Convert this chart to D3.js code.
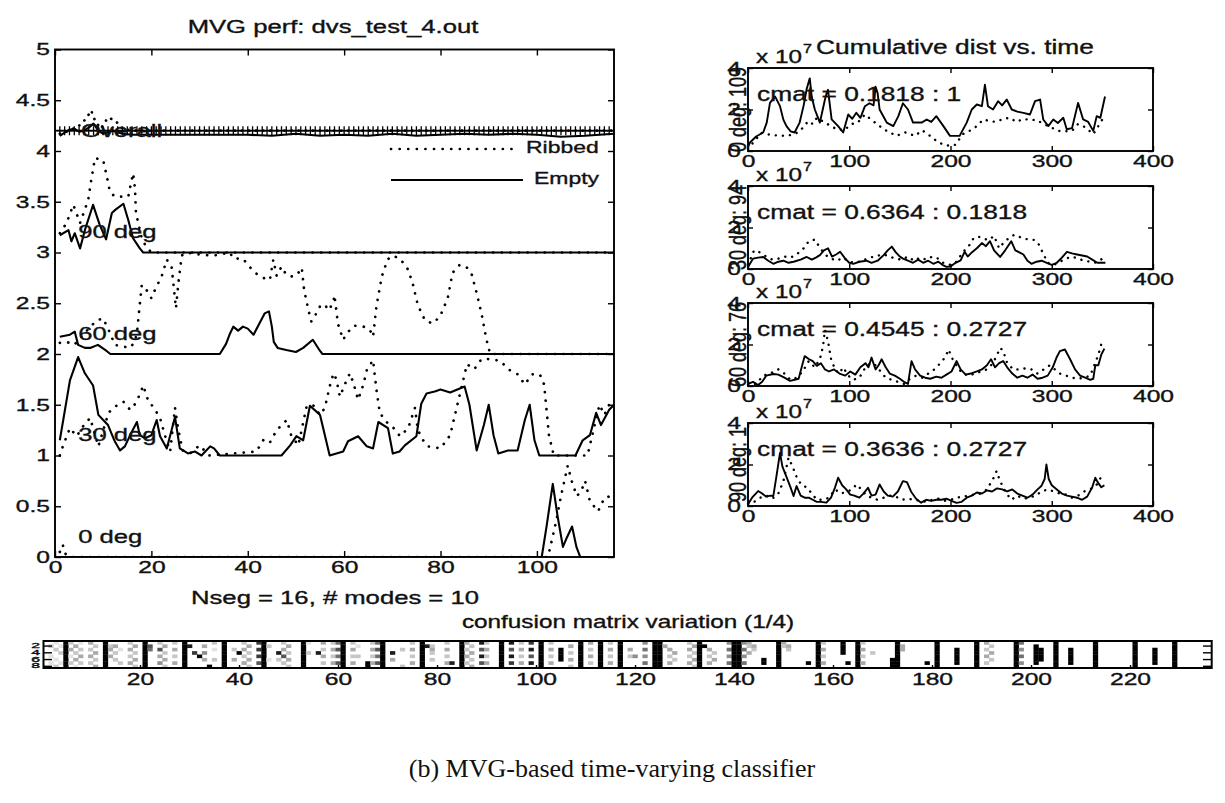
<!DOCTYPE html>
<html><head><meta charset="utf-8">
<script src="https://cdn.jsdelivr.net/npm/d3@7"></script>
<style>
body{margin:0;background:#fff;}
svg text{font-family:"Liberation Sans",Arial,Helvetica,sans-serif;fill:#111;stroke:#111;stroke-width:0.35px;}
</style></head><body>
<script>
// ---------- data ----------
// main panel: per-orientation performance (0..1), drawn with an offset per orientation
const orientations = ["0 deg", "30 deg", "60 deg", "90 deg"];
const offsets = [0, 1, 2, 3];
const empty0  = [[1,0],[101,0],[102,.3],[103.3,.72],[104.3,.4],[105.4,.1],[106.3,.2],[107.3,.3],[108.2,.1],[109,0],[116,0]];
const ribbed0 = [[1,.05],[1.6,.12],[2.2,.03],[3,0],[102.3,0],[104,.35],[105,.6],[106.4,.9],[107.2,.75],[108.3,.6],[109.2,.65],[110,.75],[111,.55],[112.7,.45],[113.7,.55],[114.7,.6],[116,.55]];
const empty30 = [[1,.15],[3.1,.74],[4.8,.97],[6.2,.81],[7.9,.69],[9,.4],[10,.35],[11,.3],[12.4,.14],[13.5,.05],[14.5,.09],[15.9,.23],[17,.33],[17.6,.2],[18.7,.17],[20,.2],[21.1,.35],[21.8,.19],[23.2,.07],[24.9,.38],[25.9,.07],[27.6,.02],[29,.04],[30.4,0],[32.2,.09],[33,.07],[34.2,0],[47,0],[48.8,.1],[50.1,.19],[51.5,.15],[52.9,.49],[55,.4],[57,0],[59.8,.04],[60.8,.14],[62.9,.19],[64.7,.09],[66,.07],[67.1,.33],[69.1,.27],[70.1,.02],[71.5,.04],[72.6,.1],[75,.19],[76,.51],[77.1,.61],[78.8,.63],[80,.65],[82,.62],[84,.66],[85,.68],[86,.5],[87.5,.05],[89,.3],[90,.5],[91,.2],[92,.02],[94,.05],[96,.05],[97.5,.35],[98.5,.5],[99.5,.15],[100.5,0],[108,0],[109.5,.15],[111,.2],[112.3,.42],[113.3,.3],[115,.45],[116,.5]];
const ribbed30 = [[1,0],[1.7,.1],[3.1,.27],[4.5,.19],[6,.3],[7.3,.37],[9,.09],[11.1,.42],[12.4,.48],[14.2,.53],[15.6,.45],[16.5,.5],[17.6,.6],[18.3,.69],[19.4,.53],[20.4,.48],[21.8,.37],[22.8,.2],[23.9,.04],[24.9,.47],[25.6,.25],[26.5,.05],[28,.02],[30,.1],[31,.05],[32,0],[41.8,.04],[43.2,.15],[44.5,.12],[46,.25],[48.1,.35],[49,.2],[50.5,.1],[52.2,.48],[53.5,.5],[55,.4],[56,.47],[57,.68],[57.8,.81],[58.4,.75],[59.1,.58],[60.5,.74],[61.2,.81],[62,.7],[62.9,.55],[64,.7],[64.7,.84],[66,.94],[66.7,.65],[67.4,.42],[68.8,.33],[70.1,.28],[71.6,.19],[73.3,.27],[74.7,.47],[75.3,.25],[76.4,.15],[77.4,.09],[80,.07],[82,.2],[84,.6],[85.5,.9],[87,.85],[88.5,.95],[90.5,.95],[92.5,.93],[94,.85],[96,.8],[97.5,.7],[99,.8],[100.6,.8],[101.5,.7],[102.5,.2],[103.5,0],[110.5,0],[112,.3],[113,.5],[114,.4],[115,.5],[116,.45]];
const empty60 = [[1,.17],[3.1,.19],[4.1,.22],[4.8,.09],[6.2,.06],[7.3,.06],[8.9,.09],[10.7,.03],[11.5,0],[34.2,0],[35.5,.1],[36.3,.2],[37,.27],[38,.23],[39,.27],[40,.25],[41.2,.19],[43.5,.4],[44.4,.42],[45,.27],[45.4,.12],[46.2,.06],[48,.04],[50,.02],[51.5,.06],[53.5,.14],[55,.03],[55.5,0],[116,0]];
const ribbed60 = [[1,.11],[2.4,.12],[4,.09],[6,.2],[8.6,.33],[10,.35],[11.5,.2],[12.4,.09],[15.6,.06],[16.5,.12],[17,.2],[17.4,.4],[18,.68],[19,.63],[20,.55],[21,.66],[22.1,.76],[23.2,.93],[24.2,.86],[24.6,.68],[25.1,.45],[25.6,.7],[26.3,.97],[27.3,1],[30,.98],[33,.97],[36.3,1],[37,.94],[39,.94],[40,.88],[41.5,.8],[43.2,.75],[44.6,.73],[45.3,.93],[46,.77],[47,.86],[48,.78],[49.5,.76],[50.5,.8],[51.2,.85],[51.7,.63],[52.6,.43],[53.2,.32],[54,.38],[55,.47],[56,.49],[56.7,.43],[57.7,.5],[58,.58],[58.7,.3],[59.8,.14],[60.5,.2],[62,.28],[64,.27],[65.3,.24],[66,.17],[66.7,.47],[67.8,.76],[69,.93],[70,.97],[71.6,.94],[73.3,.83],[74.3,.68],[75.3,.48],[76.8,.33],[78.4,.3],[79.9,.37],[81.5,.55],[82.5,.8],[84,.88],[85.5,.85],[86.5,.78],[87.5,.6],[88.5,.4],[89.5,.15],[90.3,0],[116,0]];
const empty90 = [[1,.17],[2.8,.22],[3.4,.11],[4.1,.19],[5.2,.04],[6.2,.22],[7.9,.47],[9.3,.27],[10.6,.13],[11.8,.39],[12.5,.42],[14.2,.48],[15.2,.32],[16.2,.14],[17.6,.04],[18.3,0],[116,0]];
const ribbed90 = [[1,.19],[2.4,.29],[3.8,.47],[5.2,.29],[6.9,.52],[7.3,.65],[8.3,.93],[10,.91],[10.7,.76],[11.4,.6],[12.4,.55],[15.2,.55],[16.2,.78],[16.6,.63],[16.8,.39],[18,.14],[19.1,.04],[20.1,0],[116,0]];
// overall row (offset 4)
const overallLevel = 4.2;
const overallCount = 116;
const overallEmpty  = [[1,.15],[2,.18],[3,.21],[4,.22],[5,.19],[6,.2],[7,.23],[8,.27],[9,.2],[10,.17],[12,.2],[14,.17],[16,.16],[30,.16],[40,.16],[45,.15],[50,.17],[55,.15],[60,.16],[65,.15],[70,.17],[75,.15],[80,.16],[85,.17],[90,.16],[95,.17],[100,.16],[105,.14],[110,.15],[116,.17]];
const overallRibbed = [[1,.17],[3,.2],[5,.25],[6.5,.32],[7.5,.4],[8.3,.3],[9.5,.22],[11,.33],[12.5,.3],[14,.22],[16,.2],[116,.2]];

// right panels: cumulative distance (x 10^7) vs time
const panelLabels = ["0 deg: 109", "30 deg: 94", "60 deg: 76", "90 deg: 1"];
const cmatLabels = ["cmat = 0.1818 : 1", "cmat = 0.6364 : 0.1818", "cmat = 0.4545 : 0.2727", "cmat = 0.3636 : 0.2727"];
const dist0Solid = [[0,.2],[2,.41],[8,.7],[15,.89],[18.5,1.37],[21.7,2.32],[26.7,2.63],[31.6,2.16],[35,1.5],[38,1.2],[42,.95],[46,.89],[51,1.37],[55,2.2],[58,3],[61,3.5],[63,2.6],[66,2],[71,1.37],[76,2.48],[77.7,2.8],[79,2.95],[82.6,1.52],[89,1.2],[94,.89],[99,1.76],[103,1.55],[107,1.84],[111,1.6],[115.5,2.16],[120,2.3],[124,2.2],[126,3.1],[128,2.79],[130,2],[137,1.37],[143.5,1.2],[148.5,1.68],[153,2.3],[158,2],[163,1.37],[171.5,1.37],[176.5,1.52],[181,1.4],[186,1.68],[193,1.2],[199.5,.73],[209,.73],[216,1.37],[221,2],[226,2.24],[231,2.16],[234,3.19],[237,2.16],[242,2],[247,2.4],[251,2.2],[255.5,2.48],[260.5,2],[266,1.9],[272,1.84],[278.5,1.76],[283.5,2.4],[288.5,2.48],[291.6,1.52],[296.6,1.2],[301.5,1.52],[306,1.35],[311.4,1.6],[314.8,1.05],[320,1.1],[326,2.32],[331,1.52],[336,1.4],[341,.97],[344.4,1.68],[348,1.6],[352.6,2.63]];
const dist0Dotted = [[0,.1],[5,.4],[13,.87],[20,.8],[28,.75],[38,.73],[46,.81],[52,1],[59.5,1.44],[64,1.3],[68,1.6],[75,1.4],[82,1.2],[87.6,1.05],[95,1],[102,1.3],[108,1.35],[115.5,1.76],[122,1.5],[130,1.2],[137,.97],[146.8,.73],[155,.9],[165,.73],[172,1],[178,.8],[186,.49],[193,.3],[199.5,.25],[205,.3],[212,.81],[220,1],[226,1.2],[232.4,1.52],[238,1.45],[245,1.4],[252,1.55],[258.8,1.6],[265,1.4],[272,1.55],[278,1.5],[285,1.5],[292,1.3],[299,1.15],[306.5,.97],[313,.95],[320,.97],[326,1.3],[333,1.15],[341,.81],[346,1.2],[351,1.6]];
const dist30Solid = [[0,.1],[5,.5],[10,.55],[15,.58],[20,.4],[25,.25],[30,.35],[35,.4],[40,.3],[45,.35],[52,.45],[58,.58],[63,.45],[67,.55],[71,.67],[75,.9],[79,1],[83,.6],[87,.7],[91,.83],[96,.5],[100,.3],[104,.25],[110,.35],[117,.4],[122,.3],[128,.4],[134,.67],[138,.9],[142,1.08],[146,.8],[150,.6],[153,.5],[158,.4],[163,.3],[168,.45],[173,.3],[178,.4],[183,.25],[188,.35],[192,.2],[196,.1],[200,.12],[205,.3],[210,.42],[214,.83],[217,.6],[221,.8],[226,1],[231,1.25],[235,1.1],[239,1.34],[243,.9],[249,.58],[254,.9],[260,1.34],[264,.9],[268,.8],[272,.7],[276,.4],[280,.25],[285,.35],[290,.4],[295,.3],[300,.2],[305,.3],[310,.55],[315,.83],[320,.75],[325,.7],[330,.65],[335,.6],[340,.45],[345,.3],[350,.3],[353,.3]];
const dist30Dotted = [[0,.2],[6,.9],[12,.8],[18,.6],[24,.45],[30,.5],[36,.6],[42,.55],[48,.7],[55,1],[60,1.34],[66,1.42],[70,1.1],[76,.7],[82,.5],[88,.4],[94,.55],[100,.35],[106,.3],[113,.4],[120,.55],[126,.6],[132,.7],[138,.65],[145,.5],[152,.45],[158,.6],[164,.4],[170,.55],[176,.45],[182,.6],[188,.5],[194,.25],[200,.2],[206,.35],[212,.8],[219,1.17],[223,1.5],[228,1.55],[233,1.45],[238,1.4],[243,1.6],[248,1],[253,1.3],[258,1.5],[263,1.65],[268,1.55],[273,1.45],[278.5,1.42],[283,1.4],[287,1.2],[291,.8],[296,.3],[302,.2],[308,.35],[314,.5],[320,.6],[326,.5],[332,.4],[338,.35],[344,.3],[350,.5]];
const dist60Solid = [[0,.1],[5,.2],[10,.05],[14,.2],[18,.5],[25,.58],[30,.55],[36,.4],[41.5,.25],[46,.3],[50,.35],[53,.9],[56,1.44],[60,1.3],[64,1.2],[68,.97],[72,1.1],[76,.8],[80,.7],[85,.8],[91,.58],[96,.5],[101,.7],[106,.55],[111,.9],[116,1.1],[119,.9],[122,1.37],[126,.8],[129,1],[132,1.29],[136,.9],[140,.6],[145,.5],[150,.35],[154,.2],[158,.1],[161.5,1.2],[165,.8],[170,.5],[175,.4],[180,.35],[186,.45],[191,.4],[196,.55],[201,.7],[206,1.2],[210,.8],[215,.55],[220,.6],[226,.7],[231,.8],[236,1],[240,1.29],[244,.9],[248,1.1],[252,1.2],[256,.9],[261,.6],[266,.4],[271,.5],[276,.4],[281,.55],[286,.35],[291,.4],[296,.5],[301,.9],[305,1.4],[308,1.68],[313,1.76],[318,1.3],[323,.8],[328,.5],[333,.4],[338,.3],[341,.35],[343,1],[346,1],[349,1.52],[352,1.8]];
const dist60Dotted = [[0,.05],[8,.1],[15,.5],[22,.6],[30,.8],[36,.6],[42,.3],[48,.4],[54,.7],[60,1.2],[66,.9],[71,1.3],[74,1.9],[76,2.7],[79,2.16],[82,1.3],[86,.8],[90,.6],[94,.9],[99,.5],[104,.3],[110,.4],[116,.9],[121,1.1],[126,1],[131,.7],[136,.4],[142,.3],[148,.2],[154,.1],[160,.35],[166,.5],[172,.4],[178,.6],[184,.8],[190,1.1],[195,1.4],[198,1.76],[202,1.3],[207,.9],[212,.6],[218,.5],[224,.6],[230,.7],[236,.8],[242,1.1],[246,1.5],[249,1.84],[252,1.7],[256,1.1],[262,.8],[268,.8],[274,.85],[280,.8],[286,.6],[292,.8],[298,1],[303,.8],[308,.6],[314,.5],[320,.4],[326,.35],[332,.4],[338,.5],[342,1],[346,1.5],[350,2.2]];
const dist90Solid = [[0,.08],[4,.4],[10,.72],[14,.6],[18,.45],[22,.5],[25,.48],[28,1.4],[31.6,2.56],[34,1.9],[38,1.4],[42,.9],[45,.48],[48,.96],[52,.5],[56,.4],[60,.4],[64,.3],[68,.2],[72,.2],[77.4,.16],[82,.4],[86,.9],[89,1.36],[93,1],[97,.8],[101,.55],[105,.5],[110,.4],[114,.6],[118.5,.88],[122,.5],[126,.55],[130,1.04],[134,.7],[138,.5],[143,.45],[148,.7],[153,1.2],[157,1.15],[161,.7],[166,.35],[171,.16],[176,.3],[181,.25],[186,.3],[191,.3],[196,.35],[201,.25],[206,.15],[211,.2],[216,.4],[221,.5],[226,.65],[231,.6],[236,.75],[241,.7],[246,.85],[251,.8],[256,.7],[261,.8],[266,.6],[271,.5],[276,.4],[281,.55],[286,.8],[289.7,.96],[293,1.3],[294.7,2],[297,1.3],[300,1],[305,.8],[310,.6],[315,.5],[320,.45],[325,.4],[330,.3],[335,.45],[340,.9],[343,1.36],[346,1.1],[349,.9],[352,1]];
const dist90Dotted = [[0,.1],[6,.2],[12,.4],[18,.5],[24,.35],[30,.6],[35,1.2],[40,2.32],[44,1.9],[48,1.4],[53,1],[58,.9],[63,.6],[68,.3],[74,.3],[80,.4],[86,.8],[92,.6],[98,.7],[103,.8],[107,1.04],[112,.8],[117,.5],[122,.4],[128,.3],[134,.4],[140,.5],[146,.45],[152,.3],[158,.35],[164,.3],[170,.25],[176,.2],[182,.3],[188,.35],[194,.25],[200,.3],[206,.4],[212,.45],[218,.5],[224,.55],[230,.6],[236,.8],[242,1.3],[245.5,1.68],[249,1.2],[254,.7],[260,.3],[266,.5],[272,.35],[278,.4],[284,.5],[290,.7],[296,.8],[302,.7],[308,.6],[314,.55],[320,.4],[326,.5],[332,.7],[338,.8],[344,1],[350,1.5]];

// confusion matrix strip: 8 rows x 236 columns; listed columns give the shade of rows 1..8
// (0 = white .. 9 = black); columns not listed are white
const cmColumns = [
 [2,"02001010"],[3,"10200102"],[4,"01020010"],[5,"99999999"],
 [6,"20301020"],[7,"03020301"],[8,"10203020"],[10,"30203020"],[11,"02030203"],[13,"99999999"],
 [14,"02303000"],[15,"03020200"],[16,"00100020"],[18,"20302030"],[19,"03020302"],[21,"99999999"],
 [22,"06500000"],[24,"20603040"],[25,"03020302"],[27,"20302030"],[29,"99999999"],
 [30,"08000000"],[31,"00070000"],[32,"00009000"],[33,"03040300"],[34,"00000009"],[35,"20100200"],[37,"99999999"],
 [39,"00200300"],[40,"00090000"],[41,"20302030"],[42,"03020302"],[44,"70707060"],[45,"99999999"],
 [46,"02000100"],[48,"00080200"],[49,"20306020"],[50,"03020302"],[53,"99999999"],
 [54,"10020000"],[56,"00080000"],[57,"30203020"],[59,"20302030"],[60,"50605060"],[61,"99999999"],
 [63,"20302030"],[64,"01002000"],[66,"00000099"],[67,"20302030"],[68,"50605060"],[69,"99999999"],
 [71,"00080300"],[73,"00200002"],[75,"20302030"],[77,"99999999"],
 [78,"08000000"],[79,"02320200"],[82,"20302030"],[83,"00000080"],[85,"99999999"],
 [86,"30203020"],[87,"02030203"],[89,"80608060"],[90,"20302030"],[93,"99999999"],
 [95,"80608070"],[97,"20302030"],[99,"70806080"],[101,"99999999"],
 [103,"20302030"],[105,"00999900"],[107,"03020302"],[109,"99999999"],
 [111,"30203020"],[113,"99999999"],[115,"20302030"],[117,"99999999"],
 [119,"00302000"],[120,"00004000"],[122,"40504050"],[124,"99999999"],[125,"99999999"],
 [126,"03000000"],[127,"00302030"],[128,"00030200"],[131,"20302030"],[132,"03020302"],[133,"99999999"],
 [134,"09000000"],[135,"00302030"],[136,"00020300"],[139,"40504050"],[140,"99999999"],[141,"99999999"],
 [142,"40504050"],[143,"32030000"],[144,"03200000"],[146,"00000990"],[149,"99999999"],
 [150,"32000000"],[151,"03200000"],[155,"00000090"],[157,"99999999"],
 [158,"20302030"],[162,"99990000"],[163,"00000090"],[165,"99999999"],
 [166,"20302030"],[168,"00020000"],[172,"00000999"],[173,"99999999"],
 [174,"03300000"],[179,"00000090"],[181,"99999999"],
 [185,"00999990"],[189,"99999999"],
 [191,"30203020"],[192,"02030200"],[197,"99999999"],
 [198,"50405040"],[201,"09999990"],[202,"00999900"],[205,"99999999"],
 [208,"00999990"],[213,"99999999"],
 [221,"99999999"],
 [225,"00999990"],[229,"99999999"]
];
const cmCols = 236, cmRowsN = 8;
const cmXTicks = [20, 40, 60, 80, 100, 120, 140, 160, 180, 200, 220];
const cmYTicks = [2, 4, 6, 8];

// ---------- drawing ----------
const W = 1225, H = 803;
const SX = 1.35;   // horizontal glyph stretch of the figure lettering
const SXT = 1.45;  // stretch of tick numbers
const svg = d3.select("body").append("svg").attr("width", W).attr("height", H);

function label(g, x, y, s, size, anchor, base, sx) {
  return g.append("text")
    .attr("transform", `translate(${x},${y}) scale(${sx || SX},1)`)
    .attr("font-size", size).attr("text-anchor", anchor || "start")
    .attr("dominant-baseline", base || "alphabetic").text(s);
}
function vlabel(g, x, y, s, size) {
  return g.append("text")
    .attr("transform", `translate(${x},${y}) rotate(-90) scale(1,${SX})`)
    .attr("font-size", size).attr("text-anchor", "middle").text(s);
}
function styleAxis(sel, size, kind) {
  sel.select(".domain").remove();
  sel.selectAll(".tick line").attr("stroke", "#000").attr("stroke-width", 1.4);
  sel.selectAll("text").attr("font-size", size);
  if (kind === "x") sel.selectAll("text").attr("transform", `scale(${SXT},1)`);
  if (kind === "y") sel.selectAll("text").each(function () {
    const t = d3.select(this);
    t.attr("x", +t.attr("x") / SXT).attr("transform", `scale(${SXT},1)`);
  });
  if (kind === "none") sel.selectAll("text").remove();
}
function frameAxes(g, xs, ys, xt, yt, size, tick, ypad) {
  const [x0, x1] = xs.range(), [y0, y1] = ys.range();
  const f = d => String(d);
  g.append("g").attr("transform", `translate(0,${y0})`)
    .call(d3.axisBottom(xs).tickValues(xt).tickSizeInner(-tick).tickSizeOuter(0).tickPadding(4).tickFormat(f))
    .call(s => styleAxis(s, size, "x"));
  g.append("g").attr("transform", `translate(0,${y1})`)
    .call(d3.axisTop(xs).tickValues(xt).tickSizeInner(-tick).tickSizeOuter(0).tickFormat(""))
    .call(s => styleAxis(s, 1, "none"));
  g.append("g").attr("transform", `translate(${x0},0)`)
    .call(d3.axisLeft(ys).tickValues(yt).tickSizeInner(-tick).tickSizeOuter(0).tickPadding(ypad).tickFormat(f))
    .call(s => styleAxis(s, size, "y"));
  g.append("g").attr("transform", `translate(${x1},0)`)
    .call(d3.axisRight(ys).tickValues(yt).tickSizeInner(-tick).tickSizeOuter(0).tickFormat(""))
    .call(s => styleAxis(s, 1, "none"));
  g.append("rect").attr("x", x0).attr("y", y1).attr("width", x1 - x0).attr("height", y0 - y1)
    .attr("fill", "none").attr("stroke", "#000").attr("stroke-width", 1.9);
}

const solidStyle = p => p.attr("fill", "none").attr("stroke", "#000").attr("stroke-width", 2.1).attr("stroke-linejoin", "round");
const dotStyle = (p, gap) => p.attr("fill", "none").attr("stroke", "#000").attr("stroke-width", 2.7)
  .attr("stroke-linecap", "round").attr("stroke-dasharray", `0.1 ${gap}`);

// ----- main panel -----
const xM = d3.scaleLinear().domain([0, 116]).range([55, 614]);
const yM = d3.scaleLinear().domain([0, 5]).range([557, 49.5]);
const gM = svg.append("g");
svg.append("clipPath").attr("id", "clipM").append("rect")
  .attr("x", 55).attr("y", 49.5).attr("width", 559).attr("height", 507.5);

const plotM = gM.append("g").attr("clip-path", "url(#clipM)");
const series = [[ribbed0, empty0], [ribbed30, empty30], [ribbed60, empty60], [ribbed90, empty90]];
series.forEach(([rib, emp], i) => {
  const ln = d3.line().x(d => xM(d[0])).y(d => yM(d[1] + offsets[i]));
  dotStyle(plotM.append("path").attr("d", ln(rib)), 8.5);
  solidStyle(plotM.append("path").attr("d", ln(emp)));
});
const lnO = d3.line().x(d => xM(d[0])).y(d => yM(d[1] + 4));
dotStyle(plotM.append("path").attr("d", lnO(overallRibbed)), 7);
solidStyle(plotM.append("path").attr("d", lnO(overallEmpty)));
plotM.append("line").attr("x1", 55).attr("x2", 614).attr("y1", yM(overallLevel)).attr("y2", yM(overallLevel))
  .attr("stroke", "#000").attr("stroke-width", 1.7);
plotM.selectAll(".plus").data(d3.range(1, overallCount + 1)).join("path")
  .attr("d", d => `M${xM(d) - 3.5},${yM(overallLevel)}h7M${xM(d)},${yM(overallLevel) - 4.5}v9`)
  .attr("stroke", "#000").attr("stroke-width", 1.3);

frameAxes(gM, xM, yM, [0, 20, 40, 60, 80, 100], d3.range(0, 5.01, 0.5).map(v => +v.toFixed(1)), 17, 6, 5);

orientations.forEach((o, i) => label(gM, xM(4.8), yM(offsets[i] + 0.19), o, 19, "start", "middle"));
label(gM, xM(5.4), yM(4.19), "Overall", 19, "start", "middle");

label(gM, 333, 33, "MVG perf: dvs_test_4.out", 19, "middle");
label(gM, 335, 604, "Nseg = 16, # modes = 10", 19, "middle");

// legend
const leg = gM.append("g");
dotStyle(leg.append("line").attr("x1", 391).attr("x2", 515).attr("y1", 149).attr("y2", 149), 8.5);
label(leg, 526, 149, "Ribbed", 17, "start", "middle");
solidStyle(leg.append("line").attr("x1", 391).attr("x2", 523).attr("y1", 180).attr("y2", 180));
label(leg, 534, 180, "Empty", 17, "start", "middle");

// ----- right panels -----
const xR = d3.scaleLinear().domain([0, 400]).range([748, 1153]);
const tops = [68, 186, 303, 423];
const ph = 83;
const distSeries = [[dist0Solid, dist0Dotted], [dist30Solid, dist30Dotted], [dist60Solid, dist60Dotted], [dist90Solid, dist90Dotted]];
distSeries.forEach(([sol, dot], i) => {
  const g = svg.append("g");
  const yR = d3.scaleLinear().domain([0, 4]).range([tops[i] + ph, tops[i]]);
  const ln = d3.line().x(d => xR(d[0])).y(d => yR(d[1]));
  dotStyle(g.append("path").attr("d", ln(dot)), 7).attr("stroke-width", 2.4);
  solidStyle(g.append("path").attr("d", ln(sol))).attr("stroke-width", 1.9);
  frameAxes(g, xR, yR, [0, 100, 200, 300, 400], [0, 2, 4], 17, 5, 7);
  label(g, xR(9), tops[i] + 28, cmatLabels[i], 19.5, "start", "middle");
  vlabel(g, 746, tops[i] + ph / 2, panelLabels[i], 18);
  label(g, 756, tops[i] - 5, "x 10", 18);
  label(g, 803, tops[i] - 15, "7", 12);
});
label(svg, 955, 54, "Cumulative dist vs. time", 19.5, "middle");

// ----- confusion matrix strip -----
const gC = svg.append("g");
const xC = d3.scaleLinear().domain([0.5, cmCols + 0.5]).range([43.5, 1211.7]);
const yC = d3.scaleLinear().domain([0.5, cmRowsN + 0.5]).range([641, 668]);
const cells = [];
cmColumns.forEach(([col, s]) => s.split("").forEach((c, r) => { if (+c > 0) cells.push({ row: r + 1, col, v: +c }); }));
const shade = d3.scaleLinear().domain([0, 9]).range(["#ffffff", "#000000"]);
gC.selectAll("rect.cell").data(cells).join("rect").attr("class", "cell")
  .attr("x", d => xC(d.col - 0.5)).attr("y", d => yC(d.row - 0.5))
  .attr("width", xC(1.5) - xC(0.5) + 0.3).attr("height", yC(1.5) - yC(0.5) + 0.3)
  .attr("fill", d => shade(d.v));
// row ticks inside both sides, column ticks inside the bottom
cmYTicks.forEach(t => {
  gC.append("line").attr("x1", 43.5).attr("x2", 52).attr("y1", yC(t)).attr("y2", yC(t)).attr("stroke", "#000").attr("stroke-width", 1.4);
  gC.append("line").attr("x1", 1203).attr("x2", 1211.7).attr("y1", yC(t)).attr("y2", yC(t)).attr("stroke", "#000").attr("stroke-width", 1.4);
});
gC.append("rect").attr("x", 43.5).attr("y", 641).attr("width", 1211.7 - 43.5).attr("height", 27)
  .attr("fill", "none").attr("stroke", "#000").attr("stroke-width", 2);
const axC = gC.append("g").attr("transform", "translate(0,668)")
  .call(d3.axisBottom(xC).tickValues(cmXTicks).tickSizeInner(-3).tickSizeOuter(0).tickPadding(5).tickFormat(d => String(d)));
styleAxis(axC, 17, "x");
cmYTicks.forEach(t => label(gC, 40, yC(t), String(t), 7.5, "end", "middle", 2.1));
label(gC, 628, 628, "confusion matrix variation (1/4)", 18, "middle");

// caption
svg.append("text").attr("x", 612).attr("y", 777).attr("text-anchor", "middle")
  .style("font-family", '"Liberation Serif","Times New Roman",serif').style("font-size", "26px")
  .style("fill", "#111").style("stroke", "none")
  .text("(b) MVG-based time-varying classifier");
</script></body></html>
